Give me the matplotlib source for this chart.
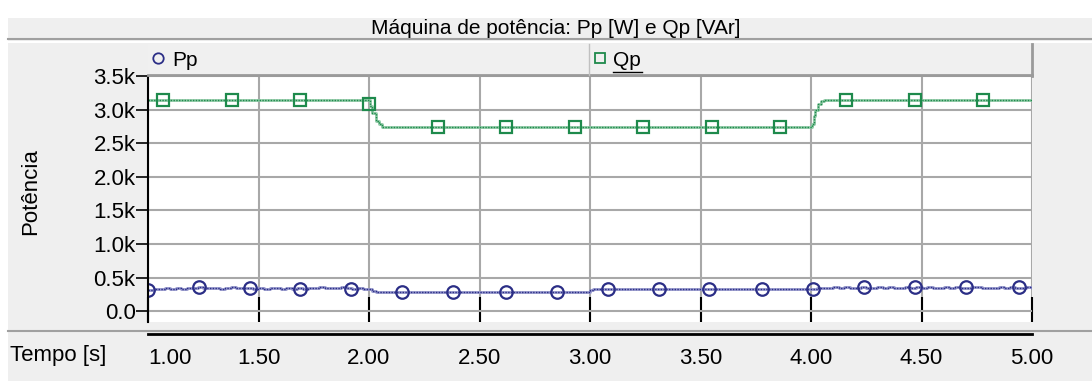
import matplotlib
matplotlib.use("Agg")
import matplotlib.pyplot as plt
from matplotlib.patches import Rectangle
from matplotlib.lines import Line2D
import numpy as np

plt.rcParams['font.family'] = ['Liberation Sans', 'DejaVu Sans']

# Pp (W) - noisy segments sampled every 25 ms, flat segments as breakpoints
pp_noise_a = [320, 330, 325, 340, 330, 345, 335, 350, 340, 355, 345, 340, 350, 335, 345, 355, 340, 350, 345, 335,
              345, 330, 340, 350, 335, 345, 330, 340, 335, 350, 340, 355, 345, 350, 340, 355, 345, 335, 345, 330]
pp_flat_t = [2.000, 2.015, 2.030, 3.000, 3.015]
pp_flat_v = [325, 305, 292, 310, 325]
pp_noise_b = [325, 340, 350, 340, 355, 345, 360, 350, 345, 360, 350, 340, 355, 345, 360, 350, 340, 355, 350, 360,
              345, 355, 340, 350, 360, 345, 355, 350, 340, 355, 360, 345, 350, 340, 355, 345, 360, 350, 345, 355]

# Qp (VAr) step breakpoints
qp_t = [1.000, 2.005, 2.015, 2.030, 2.045, 2.060, 4.005, 4.012, 4.020, 4.030, 4.045, 4.060, 5.000]
qp_v = [3145, 3060, 2950, 2830, 2780, 2745, 2790, 2900, 2990, 3080, 3125, 3150, 3150]

# marker positions
pp_mk_t = [1.00, 1.23, 1.46, 1.69, 1.92, 2.15, 2.38, 2.62, 2.85, 3.08, 3.31, 3.54, 3.78, 4.01, 4.24, 4.47, 4.70, 4.94]
pp_mk_v = [320, 355, 350, 335, 335, 292, 292, 292, 292, 325, 325, 325, 325, 325, 355, 355, 355, 355]
qp_mk_t = [1.07, 1.38, 1.69, 2.00, 2.31, 2.62, 2.93, 3.24, 3.55, 3.86, 4.16, 4.47, 4.78]
qp_mk_v = [3145, 3145, 3145, 3080, 2745, 2745, 2745, 2745, 2745, 2745, 3150, 3150, 3150]

xticks = [1.0, 1.5, 2.0, 2.5, 3.0, 3.5, 4.0, 4.5, 5.0]
xtick_labels = ['1.00', '1.50', '2.00', '2.50', '3.00', '3.50', '4.00', '4.50', '5.00']
yticks = [0, 500, 1000, 1500, 2000, 2500, 3000, 3500]
ytick_labels = ['0.0', '0.5k', '1.0k', '1.5k', '2.0k', '2.5k', '3.0k', '3.5k']

title = 'Máquina de potência: Pp [W] e Qp [VAr]'

pp_t = list(np.arange(1.0, 2.0, 0.025)) + pp_flat_t + list(np.arange(4.0, 5.0, 0.025)) + [5.0]
pp_v = pp_noise_a + pp_flat_v + pp_noise_b + [350]

W, H = 1092, 381
bg = '#efefef'
grid_c = '#a8a8a8'
pp_c = '#2b2e86'
qp_c = '#1e8a4c'
fs = 16

fig = plt.figure(figsize=(W / 100, H / 100), dpi=100, facecolor=bg)


def fx(px):
    return px / W


def fy(py):
    return 1 - py / H


# white margins at top / left
fig.add_artist(Rectangle((0, fy(18)), 1, 18 / H, transform=fig.transFigure, color='white', lw=0))
fig.add_artist(Rectangle((0, 0), fx(8), 1, transform=fig.transFigure, color='white', lw=0))

# title
fig.text(fx(556), fy(28), title, ha='center', va='center', fontsize=15)
fig.add_artist(Line2D([fx(8), 1], [fy(39), fy(39)], transform=fig.transFigure, color='#a0a0a0', lw=1.5))
fig.add_artist(Line2D([fx(8), 1], [fy(42), fy(42)], transform=fig.transFigure, color='white', lw=1.5))

# legend bar
x0, x1, x2 = 148, 589, 1032
fig.add_artist(Rectangle((fx(x0), fy(76)), fx(x2 - x0), 32 / H, transform=fig.transFigure,
                         facecolor='#f0f0f0', edgecolor='none'))
fig.add_artist(Line2D([fx(x0), fx(x2)], [fy(75), fy(75)], transform=fig.transFigure, color='#9a9a9a', lw=2))
fig.add_artist(Line2D([fx(x1), fx(x1)], [fy(44), fy(75)], transform=fig.transFigure, color='#c0c0c0', lw=1))
fig.add_artist(Line2D([fx(x2), fx(x2)], [fy(44), fy(76)], transform=fig.transFigure, color='#9a9a9a', lw=2))
fig.add_artist(Line2D([fx(158)], [fy(58)], transform=fig.transFigure, marker='o', ms=7.5, mfc='none',
                      mec=pp_c, mew=1.3, ls='none'))
fig.text(fx(172), fy(60), 'Pp', ha='left', va='center', fontsize=15)
fig.add_artist(Line2D([fx(600)], [fy(58)], transform=fig.transFigure, marker='s', ms=7.5, mfc='none',
                      mec=qp_c, mew=1.3, ls='none'))
fig.text(fx(613), fy(60), 'Qp', ha='left', va='center', fontsize=15)
fig.add_artist(Line2D([fx(613), fx(642)], [fy(72), fy(72)], transform=fig.transFigure, color='black', lw=1))

# main plot
ax = fig.add_axes([fx(x0), fy(322), fx(x2 - x0), (322 - 76) / H])
ax.set_facecolor('white')
ax.plot(pp_t, pp_v, drawstyle='steps-post', color='#9597cc', lw=2)
ax.plot(pp_t, pp_v, drawstyle='steps-post', color=pp_c, lw=1, ls=(0, (1, 1)))
ax.plot(pp_mk_t, pp_mk_v, 'o', ms=9, mfc='none', mec=pp_c, mew=1.6)
ax.plot(qp_t, qp_v, drawstyle='steps-post', color='#8fcaa6', lw=2)
ax.plot(qp_t, qp_v, drawstyle='steps-post', color=qp_c, lw=1, ls=(0, (1, 1)))
ax.plot(qp_mk_t, qp_mk_v, 's', ms=9, mfc='none', mec=qp_c, mew=1.6)
ax.set_xlim(1.0, 5.0)
ax.set_ylim(-160, 3500)
ax.set_xticks(xticks)
ax.set_xticklabels([])
ax.set_yticks(yticks)
ax.set_yticklabels(ytick_labels, fontsize=fs)
ax.grid(True, color=grid_c, lw=1.5)
ax.set_axisbelow(True)
for s in ['top', 'right', 'bottom']:
    ax.spines[s].set_visible(False)
ax.spines['left'].set_color('black')
ax.spines['left'].set_linewidth(1.5)
ax.tick_params(axis='y', direction='out', length=9, width=1.2, pad=0)
ax.tick_params(axis='x', direction='in', length=18, width=1.5, color='black')

# x axis band below the plot
fig.add_artist(Line2D([fx(8), 1], [fy(331), fy(331)], transform=fig.transFigure, color='#a0a0a0', lw=1.5))
axb = fig.add_axes([fx(x0), fy(334), fx(x2 - x0), 0.001])
axb.patch.set_visible(False)
axb.set_xlim(1.0, 5.0)
axb.set_xticks(xticks)
axb.set_xticklabels(xtick_labels, fontsize=fs)
lab0 = axb.get_xticklabels()[0]
lab0.set_horizontalalignment('left')
axb.set_yticks([])
for s in ['left', 'right', 'bottom']:
    axb.spines[s].set_visible(False)
axb.spines['top'].set_linewidth(2)
axb.tick_params(axis='x', length=0, pad=10)
fig.text(fx(10), fy(355), 'Tempo [s]', ha='left', va='center', fontsize=fs)
fig.text(fx(31), fy(192), 'Potência', ha='center', va='center', rotation=90, fontsize=fs)

fig.savefig('out.png', dpi=100, facecolor=bg)
